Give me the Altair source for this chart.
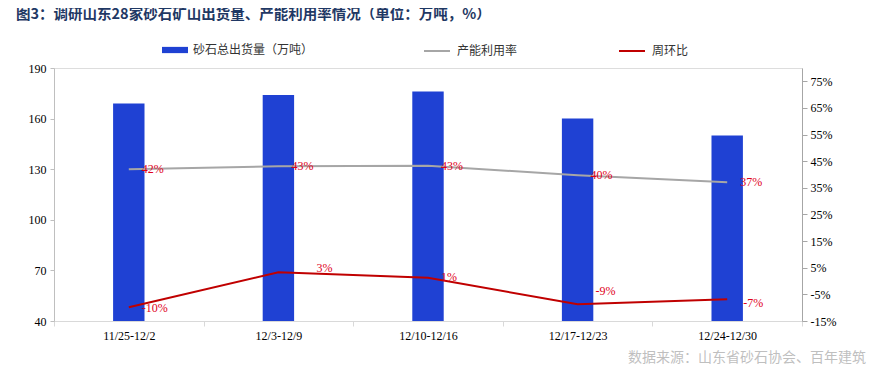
import altair as alt
import pandas as pd

categories = ["11/25-12/2", "12/3-12/9", "12/10-12/16", "12/17-12/23", "12/24-12/30"]
shipments = [169, 174, 176, 160, 150]          # 砂石总出货量（万吨）
utilization = [0.42, 0.431, 0.433, 0.397, 0.371]  # 产能利用率
wow = [-0.098, 0.033, 0.012, -0.087, -0.068]     # 周环比

bar_name = "砂石总出货量（万吨）"
util_name = "产能利用率"
wow_name = "周环比"
title_text = "图3：调研山东28家砂石矿山出货量、产能利用率情况（单位：万吨，%）"
source_text = "数据来源：山东省砂石协会、百年建筑"

left_ticks = [40, 70, 100, 130, 160, 190]
right_ticks = [-0.15, -0.05, 0.05, 0.15, 0.25, 0.35, 0.45, 0.55, 0.65, 0.75]

# label offsets (style) for the 周环比 labels
wow_label_dx = [13, 38, 13, 18, 16]
wow_label_dy = [1, -4, -1, -13, 4]

BLUE = "#1F41D3"
GRAY = "#A6A6A6"
RED = "#C00000"
LABEL_RED = "#E0001B"
SERIF = "Liberation Serif"
CJK = "Noto Sans CJK SC"

bar_df = pd.DataFrame({"cat": categories, "value": shipments, "series": bar_name})
line_df = pd.concat([
    pd.DataFrame({"cat": categories, "value": utilization, "series": util_name}),
    pd.DataFrame({"cat": categories, "value": wow, "series": wow_name}),
])

xenc = alt.X("cat:N", sort=categories, title=None,
             scale=alt.Scale(paddingInner=0, paddingOuter=0),
             axis=alt.Axis(labelAngle=0, tickBand="extent", labelFont=SERIF, labelFontSize=12,
                           labelColor="#000000", domainColor="#D9D9D9", tickColor="#D9D9D9",
                           tickSize=5, labelPadding=4, grid=False))

right_scale = alt.Scale(domain=[-0.15, 0.80], nice=False, zero=False)
right_axis = alt.Axis(values=right_ticks, orient="right", format=".0%", labelFont=SERIF,
                      labelFontSize=12, labelColor="#000000", domainColor="#A6A6A6",
                      tickColor="#A6A6A6", tickSize=5, labelPadding=3, grid=False,
                      labelOverlap=False, labelBound=False,
                      labelExpr="replace(datum.label, '\u2212', '-')")
label_calc = "replace(format(datum.value, '.0%'), '\u2212', '-')"

bars = alt.Chart(bar_df).mark_bar(width=alt.RelativeBandSize(0.21), clip=True).encode(
    x=xenc,
    y=alt.Y("value:Q", title=None,
            scale=alt.Scale(domain=[40, 190], nice=False, zero=False),
            axis=alt.Axis(values=left_ticks, orient="left", labelFont=SERIF, labelFontSize=12,
                          labelColor="#000000", domainColor="#BFBFBF", tickColor="#BFBFBF",
                          tickSize=4, labelPadding=4, grid=False, labelOverlap=False)),
    color=alt.Color("series:N", scale=alt.Scale(domain=[bar_name], range=[BLUE]),
                    legend=alt.Legend(title=None, orient="none", legendX=108, legendY=-31,
                                      direction="horizontal", padding=0,
                                      symbolType="M-1,-0.24H1V0.24H-1Z", symbolSize=676,
                                      symbolStrokeWidth=0, labelFont=CJK, labelFontSize=12,
                                      labelColor="#333333", labelOffset=5)),
)

lines = alt.Chart(line_df).mark_line(strokeWidth=2).encode(
    x=alt.X("cat:N", sort=categories),
    y=alt.Y("value:Q", title=None, scale=right_scale, axis=right_axis),
    color=alt.Color("series:N", scale=alt.Scale(domain=[util_name, wow_name], range=[GRAY, RED]),
                    legend=alt.Legend(title=None, orient="none", legendX=369, legendY=-31,
                                      direction="horizontal", padding=0, columnPadding=97,
                                      symbolType="stroke", symbolSize=676, symbolStrokeWidth=2,
                                      labelFont=CJK, labelFontSize=12, labelColor="#333333",
                                      labelOffset=6)),
)

util_labels = alt.Chart(line_df).transform_filter(alt.datum.series == util_name).transform_calculate(
    lbl=label_calc
).mark_text(
    align="left", baseline="middle", dx=13, font=SERIF, fontSize=12, color=LABEL_RED
).encode(
    x=alt.X("cat:N", sort=categories),
    y=alt.Y("value:Q", title=None, scale=right_scale, axis=right_axis),
    text="lbl:N",
)

wow_labels = []
for c, ddx, ddy in zip(categories, wow_label_dx, wow_label_dy):
    wow_labels.append(
        alt.Chart(line_df)
        .transform_filter((alt.datum.series == wow_name) & (alt.datum.cat == c))
        .transform_calculate(lbl=label_calc)
        .mark_text(align="left", baseline="middle", dx=ddx, dy=ddy, font=SERIF, fontSize=12,
                   color=LABEL_RED)
        .encode(x=alt.X("cat:N", sort=categories),
                y=alt.Y("value:Q", title=None, scale=right_scale, axis=right_axis),
                text="lbl:N")
    )

source = alt.Chart(pd.DataFrame({"t": [source_text]})).mark_text(
    align="right", baseline="middle", font=CJK, fontSize=14, color="#BFBFBF"
).encode(text="t:N", x=alt.value(812), y=alt.value(290))

title = alt.Chart(pd.DataFrame({"t": [title_text]})).mark_text(
    align="left", baseline="middle", font=CJK, fontSize=14.5, fontWeight="bold", color="#1F3864"
).encode(text="t:N", x=alt.value(-38), y=alt.value(-53))

right_layer = alt.layer(lines, util_labels, *wow_labels)

chart = alt.layer(bars, right_layer, source, title).resolve_scale(
    y="independent", color="independent"
).properties(
    width=748, height=253,
    autosize=alt.AutoSizeParams(type="none"),
    padding={"left": 46, "top": 60, "right": 70, "bottom": 48},
).configure_view(stroke=None).configure(background="white")

chart.save("out.html", embed_options={"renderer": "svg", "actions": False})
